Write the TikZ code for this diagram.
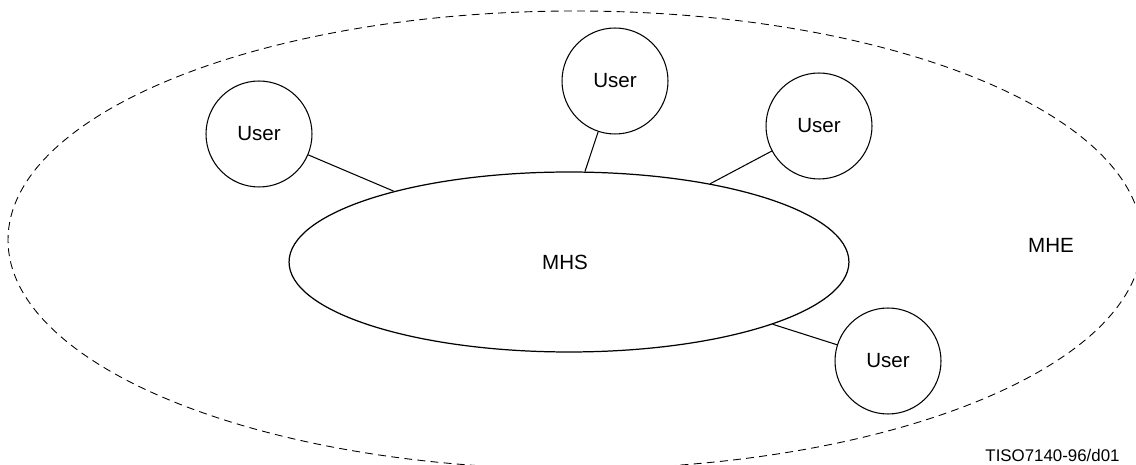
\documentclass[tikz,border=0pt]{standalone}
\usepackage{fontspec}
\setmainfont{Liberation Sans}
\usetikzlibrary{shapes.geometric}
\begin{document}
\begin{tikzpicture}[x=0.02cm,y=-0.02cm,
  usernode/.style={circle,draw,line width=0.6pt,minimum size=2.12cm,inner sep=0pt,font=\fontsize{11.7}{14}\selectfont},
  mhsnode/.style={ellipse,draw,line width=0.7pt,minimum width=11.2cm,minimum height=3.6cm,inner sep=0pt,font=\fontsize{11.7}{14}\selectfont},
  conn/.style={line width=0.6pt},
  envline/.style={line width=0.5pt,dash pattern=on 4.5pt off 3pt},
  lbl/.style={font=\fontsize{11.7}{14}\selectfont,inner sep=0pt},
  tag/.style={font=\fontsize{9.6}{12}\selectfont,inner sep=0pt}]
\useasboundingbox (0,0) rectangle (1136,465);
\clip (0,0) rectangle (1136,465);
% environment (MHE)
\draw[envline] (575,240) ellipse [x radius=567, y radius=229];
\node[lbl] (mhe) at (1051,245) {MHE};
% MHS
\node[mhsnode] (mhs) at (569,262) {};
\node[lbl] (mhstext) at (565,262) {MHS};
% users
\node[usernode] (u1) at (259,134) {User};
\node[usernode] (u2) at (615,81) {User};
\node[usernode] (u3) at (819,126) {User};
\node[usernode] (u4) at (888,361) {User};
% connectors
\draw[conn] (u1) -- (mhs.158.4);
\draw[conn] (u2) -- (mhs.80.3);
\draw[conn] (u3) -- (mhs.29.3);
\draw[conn] (u4) -- (mhs.-17.8);
% figure tag
\node[tag] (tagtext) at (1052.5,455) {TISO7140-96/d01};
\end{tikzpicture}
\end{document}
